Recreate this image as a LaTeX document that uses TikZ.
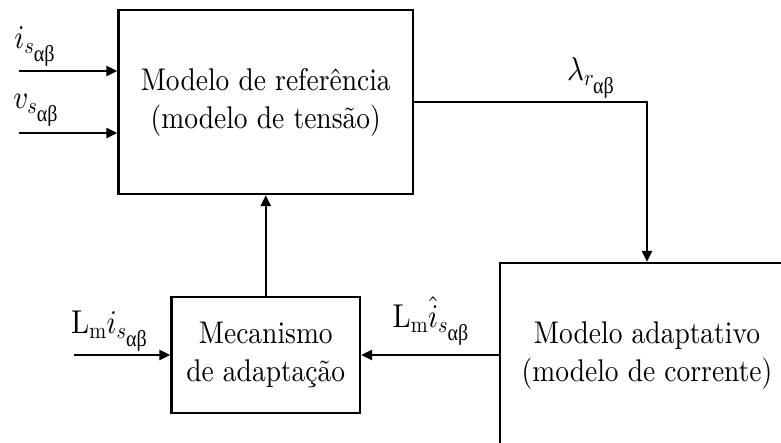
\documentclass[tikz,border=0pt]{standalone}
\usepackage{amsmath}
\usepackage{graphicx}
\usepackage{fontspec}
\setmainfont{lmroman10-regular.otf}[ItalicFont=lmroman10-italic.otf,BoldFont=lmroman10-bold.otf]
\newfontfamily\grk{Liberation Serif}
% math letters scaled freely from the 10pt design
\DeclareFontShape{OML}{cmm}{m}{it}{<-> cmmi10}{\skewchar\font127 }
\DeclareFontShape{OT1}{cmr}{m}{n}{<-> cmr10}{}
\DeclareFontShape{OMS}{cmsy}{m}{n}{<-> cmsy10}{\skewchar\font48 }
\usetikzlibrary{arrows.meta}
% upright alpha-beta index at script size
\newcommand{\ab}{\hbox{\grk\fontsize{20}{20}\selectfont αβ}}
% slightly tall lettering
\newcommand{\tall}[1]{\scalebox{1}[1.14]{#1}}
\newcommand{\twolines}[2]{\tall{\begin{tabular}{@{}c@{}}#1\\#2\end{tabular}}}
\begin{document}
\begin{tikzpicture}[x=1pt,y=-1pt,
  blk/.style={draw,line width=2.4pt},
  lbl/.style={font=\fontsize{27.5}{34.2}\selectfont,inner sep=0pt},
  sig/.style={font=\fontsize{29}{34}\selectfont,inner sep=0pt},
  conn/.style={line width=2.4pt,-{Triangle[length=11pt,width=10pt]}}]
\useasboundingbox (0,0) rectangle (781,443);
\clip (0,0) rectangle (781,443);
% blocks
\node[blk,minimum width=294.5pt,minimum height=184pt] (ref) at (265.75,102) {};
\node[lbl] (reftxt) at (265.75,101.7) {\twolines{Modelo de referência}{(modelo de tensão)}};
\node[blk,minimum width=188.5pt,minimum height=116pt] (mec) at (265.75,355) {};
\node[lbl] (mectxt) at (265.75,354.7) {\twolines{Mecanismo}{de adaptação}};
\node[blk,minimum width=294pt,minimum height=200pt] (ada) at (647,363) {};
\node[lbl] (adatxt) at (647,354.7) {\twolines{Modelo adaptativo}{(modelo de corrente)}};
% signal sources
\coordinate (inI) at (18.5,71);
\coordinate (inV) at (18.5,133);
\coordinate (inL) at (73.5,355);
% connectors
\draw[conn] (inI) -- (inI -| ref.west);
\draw[conn] (inV) -- (inV -| ref.west);
\draw[conn] (inL) -- (mec.west);
\draw[conn] (ada.west |- mec.east) -- (mec.east);
\draw[conn] (mec.north) -- (ref.south);
\draw[conn] (ref.east) -| (ada.north);
% signal labels
\node[sig] (li) at (35,47) {\tall{$i_{s_{\ab}}$}};
\node[sig] (lv) at (36,110) {\tall{$v_{s_{\ab}}$}};
\node[sig] (lli) at (109.5,331) {\tall{$\mathrm{L}_{\mathrm{m}} i_{s_{\ab}}$}};
\node[sig] (llh) at (431,321) {\tall{$\mathrm{L}_{\mathrm{m}} \hat{i}_{s_{\ab}}$}};
\node[sig] (llam) at (591,78) {\tall{$\lambda_{r_{\ab}}$}};
\end{tikzpicture}
\end{document}
